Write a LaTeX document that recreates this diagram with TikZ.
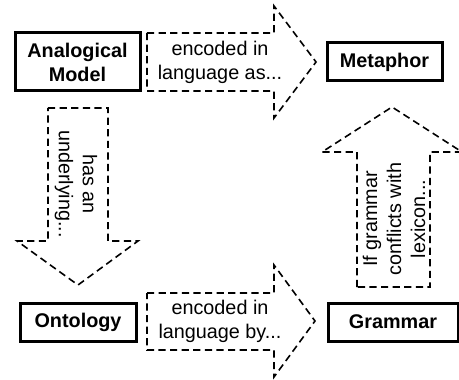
\documentclass[tikz,border=0pt]{standalone}
\usepackage{fontspec}
\setmainfont{Liberation Sans}

\begin{document}
\begin{tikzpicture}[x=0.5pt,y=-0.5pt,line join=miter]
  \tikzset{
    concept/.style={draw,line width=1.5pt,font=\bfseries\fontsize{9.9}{12}\selectfont,
      align=center,inner sep=0pt},
    blockarrow/.style={draw,line width=0.8pt,dash pattern=on 3.6pt off 2.2pt},
    label/.style={font=\fontsize{9.9}{12}\selectfont,align=center,inner sep=0pt}
  }
  \useasboundingbox (0,0) rectangle (459,379);

  % Concept boxes
  \node[concept,minimum width=62.5pt,minimum height=29pt] (model) at (77.5,62) {Analogical\\Model};
  \node[concept,minimum width=57.5pt,minimum height=19pt] (metaphor) at (384.5,62) {Metaphor};
  \node[concept,minimum width=58pt,minimum height=19pt] (ontology) at (78,322) {Ontology};
  \node[concept,minimum width=65pt,minimum height=19pt] (grammar) at (393,322) {Grammar};

  % Block arrows
  \draw[blockarrow] (147,33) -- (274,33) -- (274,6) -- (316,62) -- (274,118)
    -- (274,91) -- (147,91) -- cycle;
  \draw[blockarrow] (147,293) -- (274,293) -- (274,265) -- (315,321) -- (274,377)
    -- (274,350) -- (147,350) -- cycle;
  \draw[blockarrow] (48,108) -- (108,108) -- (108,241) -- (138,241) -- (78,285)
    -- (17,241) -- (48,241) -- cycle;
  \draw[blockarrow] (357,287) -- (357,152) -- (322,152) -- (392,107) -- (462,152)
    -- (430,152) -- (430,287) -- cycle;

  % Arrow labels
  \node[label] (asmeta) at (220,62) {encoded in\\language as...};
  \node[label] (bygram) at (220,321) {encoded in\\language by...};
  \node[label,rotate=-90] (under) at (76,184) {has an\\underlying...};
  \node[label,rotate=90] (conflict) at (394,219) {If grammar\\conflicts with\\lexicon...};
\end{tikzpicture}
\end{document}
